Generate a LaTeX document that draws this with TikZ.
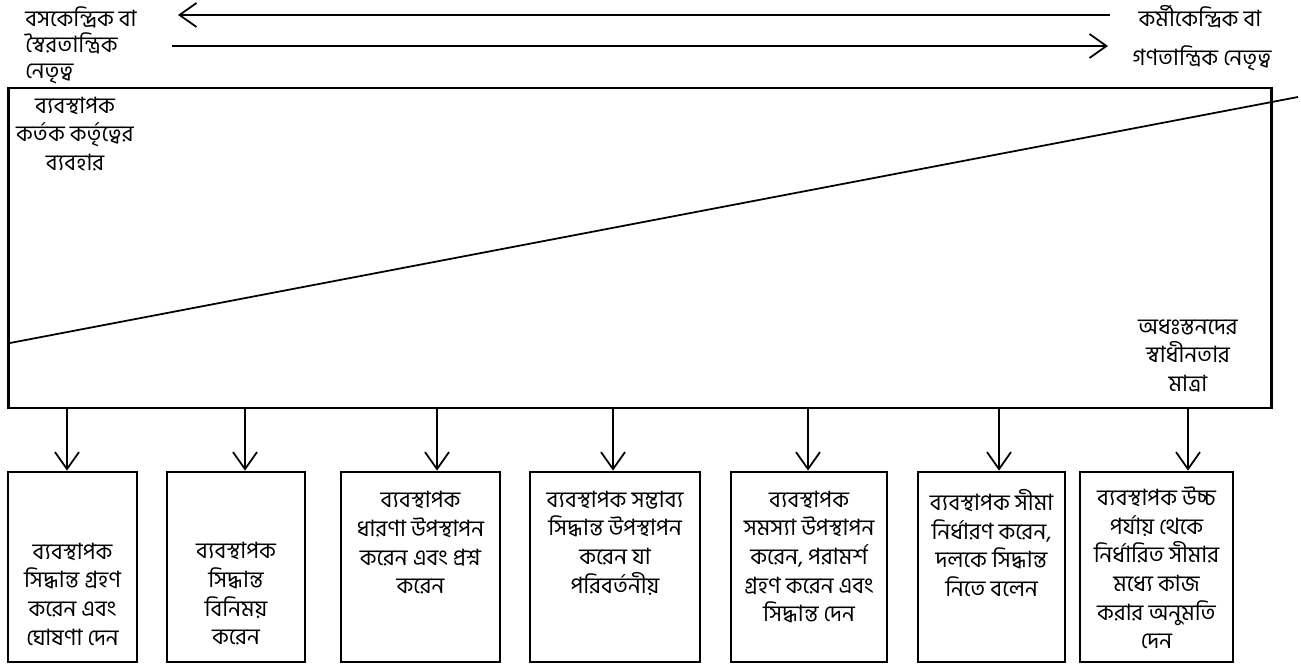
\documentclass[tikz,border=0pt]{standalone}
\usepackage{fontspec}
\newfontfamily\bangla[Script=Bengali]{Hind Siliguri}
\usetikzlibrary{arrows.meta}
\tikzstyle{frame}=[draw, line width=1.6pt, minimum width=25.28cm, minimum height=6.4cm, inner sep=0]
\tikzstyle{stepbox}=[draw, line width=1.6pt, minimum height=3.8cm, inner sep=0]
\tikzstyle{txt}=[align=center, inner sep=0, font=\bangla\fontsize{12.8}{16.3}\selectfont]
\tikzstyle{arr}=[line width=1pt, -{Straight Barb[length=0.34cm, width=0.48cm]}]

\begin{document}
\begin{tikzpicture}[x=0.02cm, y=-0.02cm]
  \useasboundingbox (0,0) rectangle (1301,668);
  % leadership styles
  \node[txt, anchor=west, align=left] (L1) at (25,45) {বসকেন্দ্রিক বা\\[-1.5pt]স্বৈরতান্ত্রিক\\[-1.5pt]নেতৃত্ব};
  \node[txt] (R1) at (1200,17) {কর্মীকেন্দ্রিক বা};
  \node[txt] (R2) at (1202,58) {গণতান্ত্রিক নেতৃত্ব};
  \coordinate (P1) at (1110,15);
  \coordinate (Q1) at (178,15);
  \coordinate (P2) at (172,46);
  \coordinate (Q2) at (1108,46);
  \draw[arr] (P1) -- (Q1);
  \draw[arr] (P2) -- (Q2);

  % continuum
  \node[frame] (F) at (640,248) {};
  \draw[line width=1pt] (10,343) -- (1298,97);
  \node[txt] (M1) at (75,134) {ব্যবস্থাপক\\কর্তক কর্তৃত্বের\\ব্যবহার};
  \node[txt] (M2) at (1188,356) {অধঃস্তনদের\\স্বাধীনতার\\মাত্রা};

  % behaviours
  \node[stepbox, minimum width=2.58cm] (B1) at (72.5,567) {};
  \node[stepbox, minimum width=2.76cm] (B2) at (236,567) {};
  \node[stepbox, minimum width=3.18cm] (B3) at (420.5,567) {};
  \node[stepbox, minimum width=3.40cm] (B4) at (615,567) {};
  \node[stepbox, minimum width=3.12cm] (B5) at (809,567) {};
  \node[stepbox, minimum width=2.94cm] (B6) at (991.5,567) {};
  \node[stepbox, minimum width=3.06cm] (B7) at (1156.5,567) {};
  \node[txt] (T1) at (72.5,594) {ব্যবস্থাপক\\সিদ্ধান্ত গ্রহণ\\করেন এবং\\ঘোষণা দেন};
  \node[txt] (T2) at (236,594) {ব্যবস্থাপক\\সিদ্ধান্ত\\বিনিময়\\করেন};
  \node[txt] (T3) at (420.5,543) {ব্যবস্থাপক\\ধারণা উপস্থাপন\\করেন এবং প্রশ্ন\\করেন};
  \node[txt] (T4) at (615,543) {ব্যবস্থাপক সম্ভাব্য\\সিদ্ধান্ত উপস্থাপন\\করেন যা\\পরিবর্তনীয়};
  \node[txt] (T5) at (809,557) {ব্যবস্থাপক\\সমস্যা উপস্থাপন\\করেন, পরামর্শ\\গ্রহণ করেন এবং\\সিদ্ধান্ত দেন};
  \node[txt] (T6) at (991.5,543) {ব্যবস্থাপক সীমা\\নির্ধারণ করেন,\\দলকে সিদ্ধান্ত\\নিতে বলেন};
  \node[txt] (T7) at (1156.5,568) {ব্যবস্থাপক উচ্চ\\পর্যায় থেকে\\নির্ধারিত সীমার\\মধ্যে কাজ\\করার অনুমতি\\দেন};

  \foreach \i/\x in {1/67, 2/245, 3/437, 4/613, 5/808, 6/999, 7/1188}{
    \coordinate (A\i) at (\x,0);
    \draw[arr] (F.south -| A\i) -- (B\i.north -| A\i);
  }
\end{tikzpicture}
\end{document}
